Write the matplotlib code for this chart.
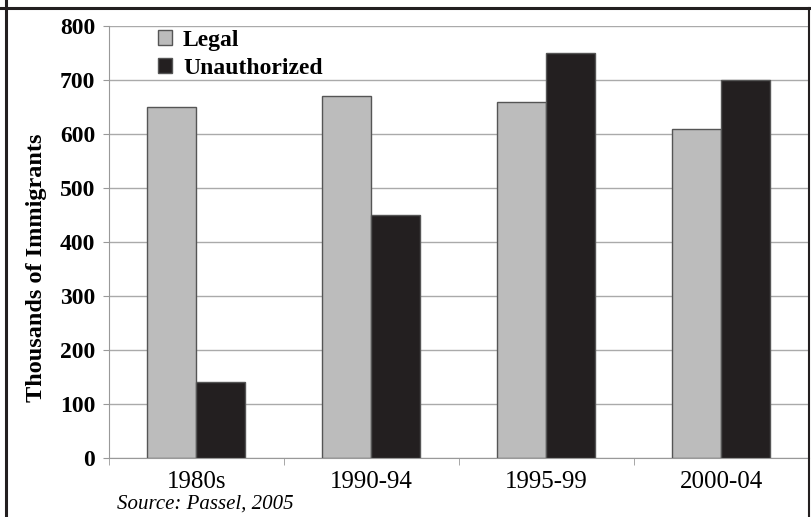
import numpy as np
import matplotlib.pyplot as plt
from matplotlib.lines import Line2D

periods = ['1980s', '1990-94', '1995-99', '2000-04']
legal = [650, 670, 660, 610]
unauthorized = [140, 450, 750, 700]

plt.rcParams['font.family'] = ['Liberation Serif', 'DejaVu Serif']

fig = plt.figure(figsize=(8.12, 5.17), dpi=100)
ax = fig.add_axes([109 / 812, 1 - 458 / 517, 700 / 812, 432 / 517])

x = np.arange(len(periods))
w = 0.28
ax.bar(x - w / 2, legal, w, color='#bcbcbc', edgecolor='#555555', linewidth=1.0,
       label='Legal', zorder=3)
ax.bar(x + w / 2, unauthorized, w, color='#231f20', edgecolor='#555555', linewidth=1.0,
       label='Unauthorized', zorder=3)

ax.set_xlim(-0.5, 3.5)
ax.set_ylim(0, 800)
ax.set_yticks(range(0, 801, 100))
ax.set_xticks(x)
ax.set_xticklabels(periods, fontsize=18)
ax.tick_params(axis='y', labelsize=17, length=4, color='#999999', pad=6)
ax.tick_params(axis='x', length=0, pad=9)
for lab in ax.get_yticklabels():
    lab.set_fontweight('bold')
# small category boundary ticks
ax.set_xticks(np.arange(-0.5, 3.6, 1), minor=True)
ax.tick_params(axis='x', which='minor', length=5, color='#999999')

ax.grid(axis='y', color='#aaaaaa', linewidth=1.0, zorder=0)
for side in ['top', 'right']:
    ax.spines[side].set_visible(False)
ax.spines['left'].set_color('#999999')
ax.spines['bottom'].set_color('#999999')

ax.set_ylabel('Thousands of Immigrants', fontsize=17.5, fontweight='bold')
ax.yaxis.set_label_coords(-0.088, 0.44)

leg = ax.legend(loc='upper left', bbox_to_anchor=(0.04, 1.04), frameon=False,
                prop={'size': 17, 'weight': 'bold'}, handlelength=0.6,
                handleheight=0.6, handletextpad=0.45, labelspacing=0.3)

fig.text(117 / 812, 1 - 509 / 517, 'Source: Passel, 2005', fontsize=15,
         style='italic', ha='left', va='baseline')

# outer frame
fig.add_artist(Line2D([0, 1], [1 - 7.5 / 517] * 2, color='#231f20', linewidth=2.2,
                      transform=fig.transFigure))
fig.add_artist(Line2D([5.5 / 812] * 2, [0, 1], color='#231f20', linewidth=2.2,
                      transform=fig.transFigure))
fig.add_artist(Line2D([809.5 / 812] * 2, [0, 1 - 7.5 / 517], color='#231f20',
                      linewidth=1.5, transform=fig.transFigure))

fig.savefig('out.png', dpi=100)
